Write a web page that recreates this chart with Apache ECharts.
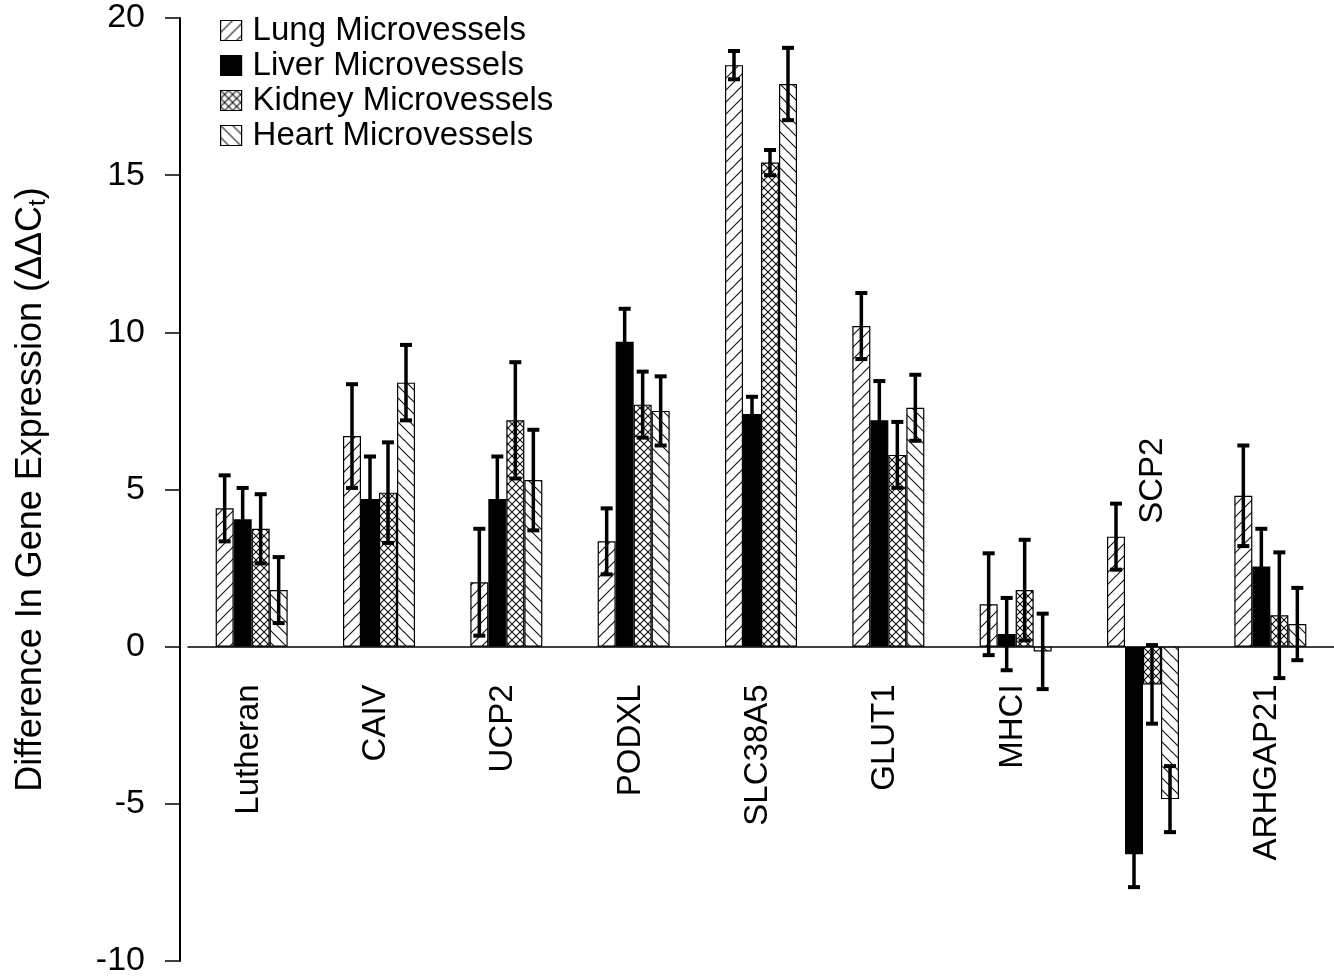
<!DOCTYPE html>
<html>
<head>
<meta charset="utf-8">
<script src="https://cdn.jsdelivr.net/npm/echarts@6/dist/echarts.min.js"></script>
<style>
html,body{margin:0;padding:0;background:#fff;}
#chart{width:1334px;height:978px;}
</style>
</head>
<body>
<div id="chart"></div>
<script>
const categories = ['Lutheran','CAIV','UCP2','PODXL','SLC38A5','GLUT1','MHCI','SCP2','ARHGAP21'];
const seriesNames = ['Lung Microvessels','Liver Microvessels','Kidney Microvessels','Heart Microvessels'];
const lung      = [4.4, 6.7, 2.05, 3.35, 18.5, 10.2, 1.35, 3.5, 4.8];
const lungErr   = [1.05, 1.65, 1.7, 1.05, 0.45, 1.05, 1.62, 1.05, 1.6];
const liver     = [4.05, 4.7, 4.7, 9.7, 7.4, 7.2, 0.4, -6.6, 2.55];
const liverErr  = [1.0, 1.35, 1.35, 1.05, 0.55, 1.25, 1.15, 1.05, 1.2];
const kidney    = [3.75, 4.9, 7.2, 7.7, 15.4, 6.1, 1.8, -1.2, 1.0];
const kidneyErr = [1.1, 1.6, 1.85, 1.05, 0.4, 1.05, 1.6, 1.25, 2.0];
const heart     = [1.8, 8.4, 5.3, 7.5, 17.9, 7.6, -0.15, -4.85, 0.72];
const heartErr  = [1.05, 1.2, 1.6, 1.1, 1.15, 1.05, 1.2, 1.05, 1.15];
const yTicks = { min: -10, max: 20, interval: 5 };

const values = [lung, liver, kidney, heart];
const errors = [lungErr, liverErr, kidneyErr, heartErr];

function makePattern(kind) {
  const s = kind === 'cross' ? 8 : 12;
  const c = document.createElement('canvas');
  c.width = s; c.height = s;
  const ctx = c.getContext('2d');
  ctx.fillStyle = '#fff';
  ctx.fillRect(0, 0, s, s);
  ctx.strokeStyle = '#111';
  ctx.lineWidth = 1.1;
  function slash() {
    ctx.beginPath();
    ctx.moveTo(-2, s + 2); ctx.lineTo(s + 2, -2);
    ctx.moveTo(-2, 2); ctx.lineTo(2, -2);
    ctx.moveTo(s - 2, s + 2); ctx.lineTo(s + 2, s - 2);
    ctx.stroke();
  }
  function back() {
    ctx.beginPath();
    ctx.moveTo(-2, -2); ctx.lineTo(s + 2, s + 2);
    ctx.moveTo(s - 2, -2); ctx.lineTo(s + 2, 2);
    ctx.moveTo(-2, s - 2); ctx.lineTo(2, s + 2);
    ctx.stroke();
  }
  if (kind === 'slash') slash();
  if (kind === 'back') back();
  if (kind === 'cross') { slash(); back(); }
  return { image: c, repeat: 'repeat' };
}

const fills = [makePattern('slash'), '#000', makePattern('cross'), makePattern('back')];
const BAR_W = 18;
const FONT = 'Liberation Sans, Arial, Helvetica, sans-serif';

const series = [];
values.forEach((vals, i) => {
  series.push({
    name: seriesNames[i],
    type: 'bar',
    data: vals,
    barWidth: BAR_W,
    barGap: '0%',
    itemStyle: { color: fills[i], borderColor: '#000', borderWidth: 1.2 },
    z: 2
  });
});
values.forEach((vals, i) => {
  const offset = (i - 1.5) * BAR_W;
  series.push({
    type: 'custom',
    name: 'err' + i,
    z: 5,
    silent: true,
    data: vals.map((v, k) => [k, v - errors[i][k], v + errors[i][k]]),
    renderItem: function (params, api) {
      const x = api.value(0);
      const lo = api.coord([x, api.value(1)]);
      const hi = api.coord([x, api.value(2)]);
      const cx = lo[0] + offset;
      const st = { stroke: '#000', lineWidth: 3.5 };
      const cap = { stroke: '#000', lineWidth: 4 };
      return {
        type: 'group',
        children: [
          { type: 'line', shape: { x1: cx, y1: lo[1], x2: cx, y2: hi[1] }, style: st },
          { type: 'line', shape: { x1: cx - 6, y1: lo[1], x2: cx + 6, y2: lo[1] }, style: cap },
          { type: 'line', shape: { x1: cx - 6, y1: hi[1], x2: cx + 6, y2: hi[1] }, style: cap }
        ]
      };
    }
  });
});
// category labels
const LABEL_BELOW = -1.2, LABEL_ABOVE = 6.65;
series.push({
  type: 'custom',
  name: 'labels',
  z: 6,
  silent: true,
  data: categories.map((c, k) => {
    const minV = Math.min(lung[k], liver[k], kidney[k], heart[k]);
    return [k, minV < -2 ? LABEL_ABOVE : LABEL_BELOW];
  }),
  renderItem: function (params, api) {
    const p = api.coord([api.value(0), api.value(1)]);
    const name = categories[params.dataIndex];
    const shift = api.value(1) > 0 ? 10 : -3;
    return {
      type: 'text',
      x: p[0] + shift,
      y: p[1],
      rotation: Math.PI / 2,
      style: { text: name, fill: '#000', font: '33px ' + FONT, align: 'right', verticalAlign: 'middle' }
    };
  }
});

const chart = echarts.init(document.getElementById('chart'), null, { renderer: 'canvas' });
chart.setOption({
  animation: false,
  backgroundColor: '#fff',
  textStyle: { fontFamily: FONT },
  grid: { left: 188, right: -2, top: 18, bottom: 12, containLabel: false },
  legend: {
    data: seriesNames,
    orient: 'vertical',
    left: 215,
    top: 8,
    itemWidth: 21,
    itemHeight: 20,
    itemGap: 0,
    icon: 'rect',
    textStyle: { fontSize: 33, color: '#000', lineHeight: 35, padding: [0, 0, 0, 6], fontFamily: FONT },
    itemStyle: { borderColor: '#000', borderWidth: 1.2 }
  },
  xAxis: {
    type: 'category',
    data: categories,
    axisLine: { onZero: true, lineStyle: { color: '#000', width: 1.5 } },
    axisTick: { show: false },
    axisLabel: { show: false },
    splitLine: { show: false }
  },
  yAxis: {
    type: 'value',
    min: yTicks.min,
    max: yTicks.max,
    interval: yTicks.interval,
    offset: 8,
    axisLine: { show: true, lineStyle: { color: '#000', width: 2 } },
    axisTick: { show: true, inside: false, length: 15, lineStyle: { color: '#000', width: 1.5 } },
    axisLabel: { fontSize: 34, color: '#000', margin: 35, fontFamily: FONT },
    splitLine: { show: false },
    name: 'Difference In Gene Expression (ΔΔC{sub|t})',
    nameLocation: 'middle',
    nameGap: 130,
    nameTextStyle: {
      fontSize: 36, color: '#000', fontFamily: FONT,
      rich: { sub: { fontSize: 24, color: '#000', verticalAlign: 'bottom', padding: [14, 0, 0, 0], fontFamily: FONT } }
    }
  },
  series: series
});
</script>
</body>
</html>
